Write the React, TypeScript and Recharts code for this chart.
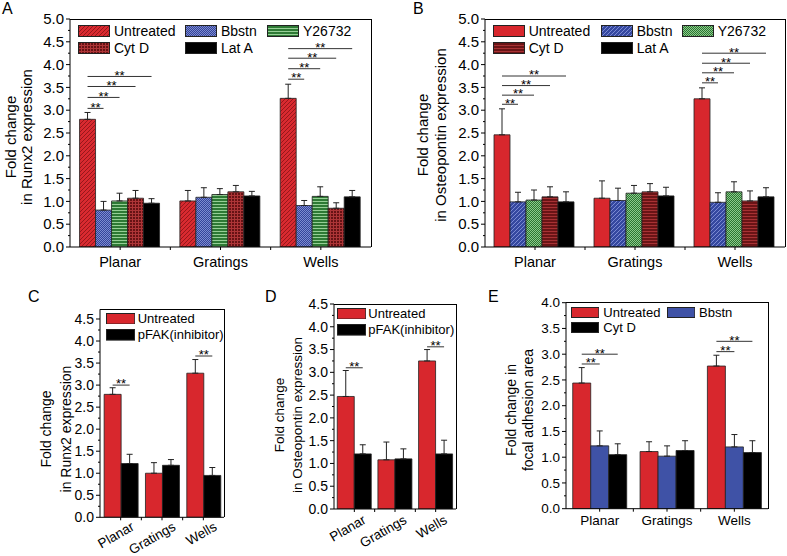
import React from "react";
import { BarChart, Bar, XAxis, YAxis, ErrorBar, Legend, Rectangle } from "recharts";

const FONT = '"Liberation Sans", Arial, Helvetica, sans-serif';

const categories = ["Planar", "Gratings", "Wells"];

// A: Runx2, cytoskeleton inhibitors
const aUntreated = [2.8, 1.01, 3.26];
const aUntreatedErr = [0.15, 0.23, 0.31];
const aBbstn = [0.81, 1.09, 0.91];
const aBbstnErr = [0.19, 0.21, 0.11];
const aY26732 = [1.01, 1.15, 1.11];
const aY26732Err = [0.17, 0.13, 0.21];
const aCytD = [1.07, 1.21, 0.85];
const aCytDErr = [0.17, 0.14, 0.12];
const aLatA = [0.96, 1.12, 1.1];
const aLatAErr = [0.1, 0.1, 0.14];
const aSig = [[3.04, 3.28, 3.52, 3.74], [], [3.68, 3.91, 4.14, 4.35]];

// B: Osteopontin, cytoskeleton inhibitors
const bUntreated = [2.46, 1.07, 3.25];
const bUntreatedErr = [0.57, 0.38, 0.24];
const bBbstn = [0.99, 1.02, 0.98];
const bBbstnErr = [0.21, 0.27, 0.21];
const bY26732 = [1.03, 1.18, 1.21];
const bY26732Err = [0.22, 0.17, 0.22];
const bCytD = [1.1, 1.21, 1.01];
const bCytDErr = [0.22, 0.18, 0.22];
const bLatA = [0.99, 1.12, 1.1];
const bLatAErr = [0.22, 0.19, 0.2];
const bSig = [[3.13, 3.33, 3.54, 3.75], [], [3.6, 3.82, 4.03, 4.25]];

// C: Runx2, pFAK inhibitor
const cUntreated = [2.79, 1.0, 3.27];
const cUntreatedErr = [0.15, 0.24, 0.31];
const cPfak = [1.22, 1.18, 0.95];
const cPfakErr = [0.21, 0.13, 0.18];
const cSig = [[3.0], [], [3.66]];

// D: Osteopontin, pFAK inhibitor
const dUntreated = [2.47, 1.08, 3.25];
const dUntreatedErr = [0.57, 0.39, 0.25];
const dPfak = [1.21, 1.1, 1.21];
const dPfakErr = [0.2, 0.22, 0.3];
const dSig = [[3.1], [], [3.56]];

// E: focal adhesion area
const eUntreated = [2.44, 1.11, 2.77];
const eUntreatedErr = [0.3, 0.19, 0.21];
const eBbstn = [1.22, 1.02, 1.2];
const eBbstnErr = [0.29, 0.2, 0.24];
const eCytD = [1.05, 1.13, 1.09];
const eCytDErr = [0.21, 0.19, 0.23];
const eSig = [[2.81, 3.0], [], [3.05, 3.25]];

const ticks50 = [0, 0.25, 0.5, 0.75, 1, 1.25, 1.5, 1.75, 2, 2.25, 2.5, 2.75, 3, 3.25, 3.5, 3.75, 4, 4.25, 4.5, 4.75, 5];
const ticks45 = [0, 0.25, 0.5, 0.75, 1, 1.25, 1.5, 1.75, 2, 2.25, 2.5, 2.75, 3, 3.25, 3.5, 3.75, 4, 4.25, 4.5];
const ticks40 = [0, 0.25, 0.5, 0.75, 1, 1.25, 1.5, 1.75, 2, 2.25, 2.5, 2.75, 3, 3.25, 3.5, 3.75, 4];

const RED = "#d8272d";
const BLUE = "#3f52a6";
const BLACK = "#000";

function PatternsA() {
  return (
    <defs>
      <pattern id="a-red" width={4} height={4} patternUnits="userSpaceOnUse">
        <rect width={4} height={4} fill="#d92a30" />
        <path d="M-1,1 l2,-2 M0,4 l4,-4 M3,5 l2,-2" stroke="#8e1518" strokeWidth={0.9} />
      </pattern>
      <pattern id="a-blue" width={2} height={2} patternUnits="userSpaceOnUse">
        <rect width={2} height={2} fill="#34449a" />
        <rect width={1} height={1} fill="#7d8bd0" />
        <rect x={1} y={1} width={1} height={1} fill="#7d8bd0" />
      </pattern>
      <pattern id="a-green" width={3} height={3} patternUnits="userSpaceOnUse">
        <rect width={3} height={3} fill="#2e7a35" />
        <rect width={3} height={1} fill="#96cf96" />
      </pattern>
      <pattern id="a-darkred" width={3} height={3} patternUnits="userSpaceOnUse">
        <rect width={3} height={3} fill="#661214" />
        <rect width={3} height={1} fill="#ad3537" />
        <rect width={1} height={3} fill="#ad3537" />
      </pattern>
    </defs>
  );
}

function PatternsB() {
  return (
    <defs>
      <pattern id="b-blue" width={4} height={4} patternUnits="userSpaceOnUse">
        <rect width={4} height={4} fill="#3548a0" />
        <path d="M-1,1 l2,-2 M0,4 l4,-4 M3,5 l2,-2" stroke="#8392d8" strokeWidth={0.9} />
      </pattern>
      <pattern id="b-green" width={2} height={2} patternUnits="userSpaceOnUse">
        <rect width={2} height={2} fill="#2b7631" />
        <rect width={1} height={1} fill="#8cc98c" />
        <rect x={1} y={1} width={1} height={1} fill="#8cc98c" />
      </pattern>
      <pattern id="b-darkred" width={3} height={3} patternUnits="userSpaceOnUse">
        <rect width={3} height={3} fill="#6a1416" />
        <rect width={3} height={1} fill="#a83234" />
      </pattern>
    </defs>
  );
}

const panels: any[] = [
  {
    letter: "A", letterX: 2, letterY: 15,
    left: 0, top: 0, width: 390, height: 290,
    margin: { top: 19, right: 19, bottom: 13, left: 0 },
    yAxisWidth: 70, xAxisHeight: 30, yMax: 5, ticks: ticks50, gap: "9.5%",
    tickSize: 15, xSize: 14.5, xDy: 19.7, rotate: false,
    title: ["Fold change", "in Runx2 expression"], titleX: [15.5, 31.5], titleCY: 137, titleSize: 15,
    legend: { left: 78, top: 25, cols: [0, 107, 189], rowStep: 17, sw: 32, sh: 12, gap: 4, fontSize: 14 },
    defs: <PatternsA />,
    sig: aSig,
    series: [
      { key: "u", name: "Untreated", fill: "url(#a-red)", values: aUntreated, errors: aUntreatedErr },
      { key: "bb", name: "Bbstn", fill: "url(#a-blue)", values: aBbstn, errors: aBbstnErr },
      { key: "y", name: "Y26732", fill: "url(#a-green)", values: aY26732, errors: aY26732Err },
      { key: "cd", name: "Cyt D", fill: "url(#a-darkred)", values: aCytD, errors: aCytDErr },
      { key: "la", name: "Lat A", fill: BLACK, values: aLatA, errors: aLatAErr },
    ],
  },
  {
    letter: "B", letterX: 413, letterY: 15,
    left: 390, top: 0, width: 397, height: 290,
    margin: { top: 19, right: 2, bottom: 13, left: 0 },
    yAxisWidth: 95, xAxisHeight: 30, yMax: 5, ticks: ticks50, gap: "9%",
    tickSize: 15, xSize: 14.5, xDy: 19.7, rotate: false,
    title: ["Fold change", "in Osteopontin expression"], titleX: [38, 55.5], titleCY: 135, titleSize: 15,
    legend: { left: 102.7, top: 25, cols: [0, 108, 189], rowStep: 17, sw: 32, sh: 12, gap: 4, fontSize: 14 },
    defs: <PatternsB />,
    sig: bSig,
    series: [
      { key: "u", name: "Untreated", fill: RED, values: bUntreated, errors: bUntreatedErr },
      { key: "bb", name: "Bbstn", fill: "url(#b-blue)", values: bBbstn, errors: bBbstnErr },
      { key: "y", name: "Y26732", fill: "url(#b-green)", values: bY26732, errors: bY26732Err },
      { key: "cd", name: "Cyt D", fill: "url(#b-darkred)", values: bCytD, errors: bCytDErr },
      { key: "la", name: "Lat A", fill: BLACK, values: bLatA, errors: bLatAErr },
    ],
  },
  {
    letter: "C", letterX: 28, letterY: 303,
    left: 0, top: 290, width: 262, height: 266,
    margin: { top: 19.3, right: 38, bottom: 0, left: 0 },
    yAxisWidth: 100, xAxisHeight: 38.7, yMax: 4.72, ticks: ticks45, gap: "10%",
    tickSize: 14, xSize: 13.5, rotate: true, rx: 14.5, ry: 12,
    title: ["Fold change", "in Runx2 expression"], titleX: [51, 70.5], titleCY: 139, titleSize: 14,
    legend: { left: 105.7, top: 22.7, cols: [0], rowStep: 16.6, sw: 29.3, sh: 11.6, gap: 2.7, fontSize: 13 },
    defs: null,
    sig: cSig,
    series: [
      { key: "u", name: "Untreated", fill: RED, values: cUntreated, errors: cUntreatedErr },
      { key: "pf", name: "pFAK(inhibitor)", fill: BLACK, values: cPfak, errors: cPfakErr },
    ],
  },
  {
    letter: "D", letterX: 265, letterY: 303,
    left: 262, top: 290, width: 228, height: 266,
    margin: { top: 14, right: 34, bottom: 0, left: 0 },
    yAxisWidth: 72, xAxisHeight: 47, yMax: 4.5, ticks: ticks45, gap: "8%",
    tickSize: 14, xSize: 13.5, rotate: true, rx: 12.5, ry: 13.5,
    title: ["Fold change", "in Osteopontin expression"], titleX: [22, 39.5], titleCY: 125, titleSize: 13.5,
    legend: { left: 74.7, top: 17.7, cols: [0], rowStep: 16.3, sw: 29.3, sh: 11.6, gap: 2.3, fontSize: 13 },
    defs: null,
    sig: dSig,
    series: [
      { key: "u", name: "Untreated", fill: RED, values: dUntreated, errors: dUntreatedErr },
      { key: "pf", name: "pFAK(inhibitor)", fill: BLACK, values: dPfak, errors: dPfakErr },
    ],
  },
  {
    letter: "E", letterX: 488, letterY: 303,
    left: 490, top: 290, width: 297, height: 266,
    margin: { top: 12.7, right: 19, bottom: 0, left: 0 },
    yAxisWidth: 76, xAxisHeight: 47.3, yMax: 4, ticks: ticks40, gap: "10%",
    tickSize: 13.5, xSize: 13.5, xDy: 16.3, rotate: false,
    title: ["Fold change in", "focal adhesion area"], titleX: [25.5, 43], titleCY: 120, titleSize: 14,
    legend: { left: 81, top: 16.7, cols: [0, 95.7], rowStep: 15.6, sw: 28.3, sh: 11, gap: 4, fontSize: 13 },
    defs: null,
    sig: eSig,
    series: [
      { key: "u", name: "Untreated", fill: RED, values: eUntreated, errors: eUntreatedErr },
      { key: "bb", name: "Bbstn", fill: BLUE, values: eBbstn, errors: eBbstnErr },
      { key: "cd", name: "Cyt D", fill: BLACK, values: eCytD, errors: eCytDErr },
    ],
  },
];

function plotBox(p: any) {
  return {
    left: p.margin.left + p.yAxisWidth,
    right: p.width - p.margin.right,
    top: p.margin.top,
    bottom: p.height - p.margin.bottom - p.xAxisHeight,
  };
}

// Untreated bar also carries the "**" brackets to the other bars of its group
function makeSigShape(sig: number[][]) {
  return (props: any) => {
    const { x, y, width, height, index } = props;
    const v = Array.isArray(props.value) ? props.value[1] : props.value;
    const bottom = y + height;
    const k = height / v;
    const levels = sig[index] || [];
    return (
      <g>
        <Rectangle {...props} />
        {levels.map((lv, j) => {
          const yy = bottom - lv * k;
          const x1 = x + width / 2;
          const x2 = x + width * (j + 1.5);
          return (
            <g key={j}>
              <line x1={x1} x2={x2} y1={yy} y2={yy} stroke="#333" strokeWidth={1} />
              <text x={(x1 + x2) / 2} y={yy + 3.3} textAnchor="middle" fontSize={13} fill="#000">
                **
              </text>
            </g>
          );
        })}
      </g>
    );
  };
}

function YTick(props: any) {
  const { x, y, payload, p } = props;
  const v = payload.value;
  const major = Math.abs(v * 2 - Math.round(v * 2)) < 1e-6;
  return (
    <g>
      <line x1={x - (major ? 4 : 2)} x2={x} y1={y} y2={y} stroke="#000" />
      {major && (
        <text x={x - 6} y={y} dy="0.35em" textAnchor="end" fontSize={p.tickSize} fill="#000">
          {v.toFixed(1)}
        </text>
      )}
    </g>
  );
}

function XTick(props: any) {
  const { x, y, payload, index, band, p } = props;
  return (
    <g>
      <line x1={x} x2={x} y1={y} y2={y + 3} stroke="#000" />
      {index < categories.length - 1 && (
        <line x1={x + band / 2} x2={x + band / 2} y1={y} y2={y + 3} stroke="#000" />
      )}
      {p.rotate ? (
        <text
          x={x + p.rx}
          y={y + p.ry}
          textAnchor="end"
          fontSize={p.xSize}
          fill="#000"
          transform={`rotate(-30 ${x + p.rx} ${y + p.ry})`}
        >
          {payload.value}
        </text>
      ) : (
        <text x={x} y={y + p.xDy} textAnchor="middle" fontSize={p.xSize} fill="#000">
          {payload.value}
        </text>
      )}
    </g>
  );
}

function YTitle({ p }: any) {
  return (
    <g fontSize={p.titleSize} fill="#000">
      {p.title.map((line: string, i: number) => (
        <text
          key={i}
          x={p.titleX[i]}
          y={p.titleCY}
          textAnchor="middle"
          transform={`rotate(-90 ${p.titleX[i]} ${p.titleCY})`}
        >
          {line}
        </text>
      ))}
    </g>
  );
}

function LegendBox({ p }: any) {
  const L = p.legend;
  return (
    <div style={{ position: "relative", fontSize: L.fontSize, fontFamily: FONT, color: "#000" }}>
      {p.series.map((s: any, i: number) => {
        const col = i % L.cols.length;
        const row = Math.floor(i / L.cols.length);
        return (
          <div
            key={s.key}
            style={{
              position: "absolute",
              left: L.cols[col],
              top: row * L.rowStep,
              display: "flex",
              alignItems: "center",
              whiteSpace: "nowrap",
              height: L.sh,
              lineHeight: `${L.sh}px`,
            }}
          >
            <svg width={L.sw} height={L.sh} style={{ display: "block" }}>
              <rect x={0.5} y={0.5} width={L.sw - 1} height={L.sh - 1} fill={s.fill} stroke="#222" />
            </svg>
            <span style={{ marginLeft: L.gap }}>{s.name}</span>
          </div>
        );
      })}
    </div>
  );
}

function Panel({ p }: any) {
  const data = categories.map((c, i) => {
    const row: any = { category: c };
    p.series.forEach((s: any) => {
      row[s.key] = s.values[i];
      row[s.key + "Err"] = [0, s.errors[i]];
    });
    return row;
  });
  const box = plotBox(p);
  const band = (box.right - box.left) / categories.length;

  return (
    <div style={{ position: "absolute", left: p.left, top: p.top }}>
      <BarChart width={p.width} height={p.height} data={data} margin={p.margin} barGap={0} barCategoryGap={p.gap}>
        {p.defs}
        <XAxis
          dataKey="category"
          height={p.xAxisHeight}
          interval={0}
          tickSize={0}
          tickMargin={0}
          tickLine={false}
          stroke="#000"
          tick={(t: any) => <XTick {...t} band={band} p={p} />}
        />
        <YAxis
          width={p.yAxisWidth}
          domain={[0, p.yMax]}
          ticks={p.ticks}
          interval={0}
          tickSize={0}
          tickMargin={0}
          tickLine={false}
          allowDataOverflow
          stroke="#000"
          tick={(t: any) => <YTick {...t} p={p} />}
          label={{ content: () => <YTitle p={p} /> }}
        />
        {p.series.map((s: any, i: number) => (
          <Bar
            key={s.key}
            dataKey={s.key}
            name={s.name}
            fill={s.fill}
            stroke="#222"
            strokeWidth={0.8}
            isAnimationActive={false}
            shape={i === 0 ? makeSigShape(p.sig) : undefined}
          >
            <ErrorBar dataKey={s.key + "Err"} width={3} stroke="#222" strokeWidth={1} />
          </Bar>
        ))}
        <Legend
          layout="horizontal"
          verticalAlign="middle"
          align="center"
          wrapperStyle={{ left: p.legend.left, top: p.legend.top, width: 280, height: 40 }}
          content={() => <LegendBox p={p} />}
        />
      </BarChart>
    </div>
  );
}

// top and right edges of each plot frame
function Frame({ p }: any) {
  const box = plotBox(p);
  return (
    <div
      style={{
        position: "absolute",
        left: p.left + box.left,
        top: p.top + box.top - 0.5,
        width: box.right - box.left + 0.5,
        height: box.bottom - box.top + 0.5,
        borderTop: "1px solid #000",
        borderRight: "1px solid #000",
        boxSizing: "border-box",
        pointerEvents: "none",
      }}
    />
  );
}

export default function App() {
  return (
    <div
      style={{
        position: "absolute",
        left: 0,
        top: 0,
        width: 787,
        height: 556,
        background: "#fff",
        fontFamily: FONT,
        overflow: "hidden",
      }}
    >
      {panels.map((p) => (
        <Panel key={p.letter} p={p} />
      ))}
      {panels.map((p) => (
        <Frame key={"f" + p.letter} p={p} />
      ))}
      {panels.map((p) => (
        <div
          key={"l" + p.letter}
          style={{ position: "absolute", left: p.letterX, top: p.letterY - 14, fontSize: 16, lineHeight: "16px" }}
        >
          {p.letter}
        </div>
      ))}
    </div>
  );
}
